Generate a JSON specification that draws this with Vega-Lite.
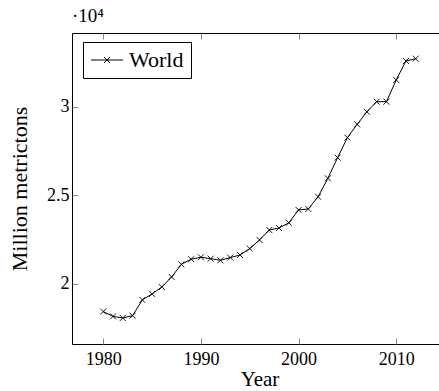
{
  "$schema": "https://vega.github.io/schema/vega-lite/v6.json",
  "width": 375,
  "height": 311,
  "autosize": {"type": "none"},
  "padding": {"left": 72, "top": 33, "right": 0, "bottom": 47},
  "background": "white",
  "config": {
    "font": "Liberation Serif, DejaVu Serif, serif",
    "view": {"stroke": "black", "strokeWidth": 1},
    "axis": {"grid": false, "domain": false, "tickColor": "#888", "tickSize": -6, "labelColor": "black", "titleColor": "black", "labelFont": "Liberation Serif, DejaVu Serif, serif", "titleFont": "Liberation Serif, DejaVu Serif, serif", "titleFontWeight": "normal", "labelFontSize": 18, "titleFontSize": 22}
  },
  "title": {"text": "·10⁴", "anchor": "start", "frame": "group", "offset": 7, "fontSize": 19, "fontWeight": "normal", "font": "Liberation Serif, DejaVu Serif, serif", "color": "black"},
  "data": {"values": [
    {"year": 1980, "value": 18440}, {"year": 1981, "value": 18170}, {"year": 1982, "value": 18080},
    {"year": 1983, "value": 18210}, {"year": 1984, "value": 19100}, {"year": 1985, "value": 19440},
    {"year": 1986, "value": 19830}, {"year": 1987, "value": 20400}, {"year": 1988, "value": 21110},
    {"year": 1989, "value": 21400}, {"year": 1990, "value": 21510}, {"year": 1991, "value": 21430},
    {"year": 1992, "value": 21340}, {"year": 1993, "value": 21490}, {"year": 1994, "value": 21640},
    {"year": 1995, "value": 22000}, {"year": 1996, "value": 22490}, {"year": 1997, "value": 23050},
    {"year": 1998, "value": 23160}, {"year": 1999, "value": 23460}, {"year": 2000, "value": 24180},
    {"year": 2001, "value": 24240}, {"year": 2002, "value": 24930}, {"year": 2003, "value": 25970},
    {"year": 2004, "value": 27140}, {"year": 2005, "value": 28270}, {"year": 2006, "value": 29020},
    {"year": 2007, "value": 29730}, {"year": 2008, "value": 30300}, {"year": 2009, "value": 30300},
    {"year": 2010, "value": 31530}, {"year": 2011, "value": 32600}, {"year": 2012, "value": 32730}
  ]},
  "layer": [
    {
      "mark": {"type": "line", "color": "black", "strokeWidth": 1},
      "encoding": {
        "x": {"field": "year", "type": "quantitative", "scale": {"domain": [1976.8, 2015.2], "nice": false, "zero": false},
              "axis": {"orient": "bottom", "values": [1980, 1990, 2000, 2010], "format": "d", "title": "Year", "labelPadding": 12, "titlePadding": 0, "titleFontSize": 21}},
        "y": {"field": "value", "type": "quantitative", "scale": {"domain": [16610, 34180], "nice": false, "zero": false},
              "axis": {"orient": "left", "values": [20000, 25000, 30000], "labelExpr": "'' + datum.value/10000", "title": "Million metrictons", "labelPadding": 9, "titlePadding": 15}}
      }
    },
    {
      "mark": {"type": "point", "shape": "M-1,-1L1,1M-1,1L1,-1", "filled": false, "size": 36, "strokeWidth": 0.9, "opacity": 1},
      "encoding": {
        "x": {"field": "year", "type": "quantitative", "axis": null},
        "y": {"field": "value", "type": "quantitative", "axis": null},
        "color": {"datum": "World", "scale": {"range": ["black"]},
                  "legend": {"title": null, "orient": "none", "legendX": 11, "legendY": 9, "strokeColor": "black", "fillColor": "white", "padding": 7,
                             "symbolType": "M-1,0L2.2,0M0.3,-0.3L0.9,0.3M0.3,0.3L0.9,-0.3", "symbolSize": 400, "symbolStrokeWidth": 1, "symbolStrokeColor": "black",
                             "labelFontSize": 22, "labelColor": "black", "labelOffset": 17, "cornerRadius": 0, "labelFont": "Liberation Serif, DejaVu Serif, serif"}}
      }
    },
    {
      "mark": {"type": "point", "opacity": 0},
      "encoding": {
        "x": {"field": "year", "type": "quantitative", "axis": {"orient": "top", "values": [1980, 1990, 2000, 2010], "labels": false, "title": null}},
        "y": {"field": "value", "type": "quantitative", "axis": {"orient": "right", "values": [20000, 25000, 30000], "labels": false, "title": null}}
      }
    }
  ],
  "resolve": {"axis": {"x": "independent", "y": "independent"}}
}
